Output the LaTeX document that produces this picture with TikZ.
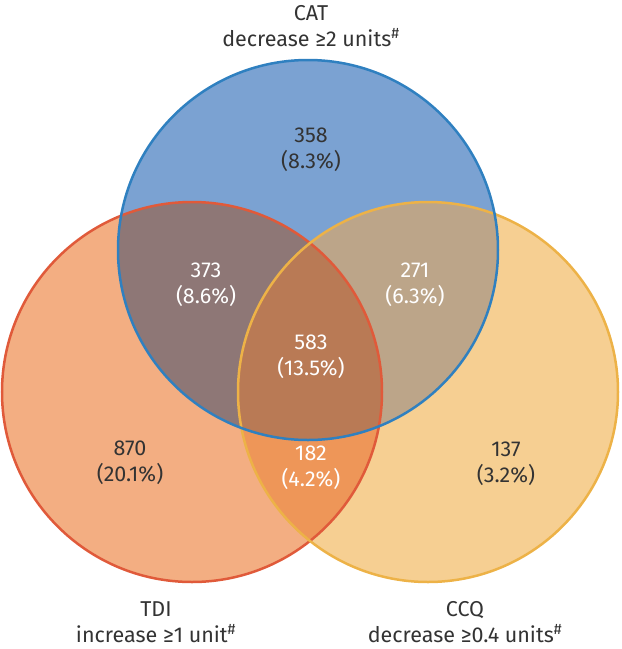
\documentclass[tikz,border=0pt]{standalone}
\usepackage{fontspec}
\setmainfont{Fira Sans}
\definecolor{catline}{HTML}{2F80C0}
\definecolor{tdiline}{HTML}{E05A3A}
\definecolor{ccqline}{HTML}{EDB247}
\definecolor{catfill}{HTML}{7BA2D2}
\definecolor{tdifill}{HTML}{F3AE82}
\definecolor{ccqfill}{HTML}{F6CF92}
\definecolor{cattdi}{HTML}{8E7776}
\definecolor{catccq}{HTML}{BCA589}
\definecolor{tdiccq}{HTML}{EE9658}
\definecolor{allthree}{HTML}{B97A55}
\definecolor{darktext}{HTML}{333333}
\newcommand{\R}{190}

\begin{document}
\begin{tikzpicture}[x=1pt,y=-1pt,
  count/.style={align=center,font=\fontsize{21.5}{26}\selectfont,text=darktext},
  inner/.style={count,text=white},
  setname/.style={count}]
  \useasboundingbox (0,0) rectangle (622,649);
  % the three sets
  \coordinate (cat) at (308,250);
  \coordinate (tdi) at (192,392);
  \coordinate (ccq) at (428,392);
  \fill[tdifill] (tdi) circle (\R);
  \fill[ccqfill] (ccq) circle (\R);
  \fill[catfill] (cat) circle (\R);
  % overlaps
  \begin{scope}
    \clip (ccq) circle (\R);
    \fill[catccq] (cat) circle (\R);
  \end{scope}
  \begin{scope}
    \clip (tdi) circle (\R);
    \fill[tdiccq] (ccq) circle (\R);
    \fill[cattdi] (cat) circle (\R);
    \clip (ccq) circle (\R);
    \fill[allthree] (cat) circle (\R);
  \end{scope}
  \draw[tdiline,line width=2.5pt] (tdi) circle (\R);
  \draw[ccqline,line width=2.5pt] (ccq) circle (\R);
  \draw[catline,line width=2.5pt] (cat) circle (\R);
  % set names
  \node[setname] (catname) at (311,26) {CAT\\decrease ≥2 units\textsuperscript{\#}};
  \node[setname] (tdiname) at (156,622) {TDI\\increase ≥1 unit\textsuperscript{\#}};
  \node[setname] (ccqname) at (465,622) {CCQ\\decrease ≥0.4 units\textsuperscript{\#}};
  % counts
  \node[count] (onlycat) at (311,150) {358\\(8.3\%)};
  \node[inner] (cattdin) at (206,285) {373\\(8.6\%)};
  \node[inner] (catccqn) at (415,285) {271\\(6.3\%)};
  \node[inner] (alln) at (311,357) {583\\(13.5\%)};
  \node[count] (onlytdi) at (130,463) {870\\(20.1\%)};
  \node[inner] (tdiccqn) at (311,468) {182\\(4.2\%)};
  \node[count] (onlyccq) at (506,464) {137\\(3.2\%)};
\end{tikzpicture}
\end{document}
